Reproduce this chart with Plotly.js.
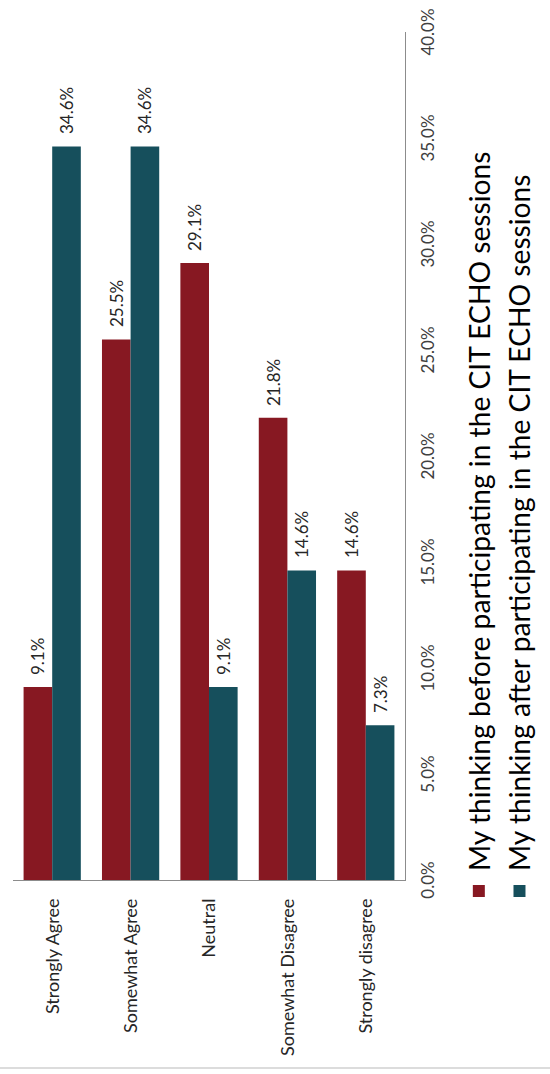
<!DOCTYPE html>
<html>
<head>
<meta charset="utf-8">
<script src="https://cdn.plot.ly/plotly-3.0.1.min.js"></script>
<style>
  html, body { margin: 0; padding: 0; background: #ffffff; overflow: hidden; width: 550px; height: 1074px; }
  #chart {
    position: absolute; left: 0; top: 0;
    width: 1074px; height: 620px;
    transform-origin: 0 0;
    transform: translate(0px, 1074px) rotate(-90deg);
  }
</style>
</head>
<body>
<div id="chart"></div>
<script>
// ---- data ----
const categories = ["Strongly Agree", "Somewhat Agree", "Neutral", "Somewhat Disagree", "Strongly disagree"];
const seriesNames = [
  "My thinking before participating in the CIT ECHO sessions",
  "My thinking after participating in the CIT ECHO sessions"
];
const beforeValues = [9.1, 25.5, 29.1, 21.8, 14.6];
const afterValues  = [34.6, 34.6, 9.1, 14.6, 7.3];
const tickValues = [0, 5, 10, 15, 20, 25, 30, 35, 40];
const tickLabels = ["0.0%", "5.0%", "10.0%", "15.0%", "20.0%", "25.0%", "30.0%", "35.0%", "40.0%"];

// ---- styling ----
const colors = ["#871822", "#164F5C"];
const FONT = "Lato, 'Open Sans', 'DejaVu Sans', sans-serif";
const W = 1074, H = 620;          // figure drawn wider than the 550px view; extra is blank
const VIEW = 550;
const M = { l: 194, r: 32, t: 13, b: H - 405 };
const BARGAP = 0.27;

const series = [beforeValues, afterValues];
const traces = series.map((vals, i) => ({
  type: "bar",
  orientation: "h",
  name: seriesNames[i],
  legendgroup: "g" + i,
  x: vals,
  y: categories,
  marker: { color: colors[i], line: { width: 0 } },
  hoverinfo: "skip"
}));

const plotH = H - M.t - M.b;
const band = plotH / categories.length;
const barPx = band * (1 - BARGAP) / series.length;
const annotations = [];
series.forEach((vals, i) => {
  const shift = (i === 0 ? 1 : -1) * barPx / 2;
  vals.forEach((v, j) => {
    annotations.push({
      x: v, y: categories[j], xref: "x", yref: "y",
      text: v.toFixed(1) + "%",
      showarrow: false,
      xanchor: "left", yanchor: "middle",
      xshift: 10, yshift: shift,
      font: { family: FONT, size: 17, color: "#262626" }
    });
  });
});

const toPaperY = v => (H - M.b - v) / plotH;

const layout = {
  width: W, height: H,
  margin: M,
  paper_bgcolor: "#ffffff",
  plot_bgcolor: "#ffffff",
  barmode: "group",
  bargap: BARGAP,
  bargroupgap: 0,
  showlegend: true,
  legend: {
    orientation: "v",
    x: (163 - M.l) / (W - M.l - M.r), xanchor: "left",
    y: toPaperY(454), yanchor: "top",
    traceorder: "grouped",
    tracegroupgap: 1,
    font: { family: FONT, size: 28.2, color: "#000000" },
    bgcolor: "rgba(0,0,0,0)"
  },
  xaxis: {
    range: [0, 40],
    tickvals: tickValues,
    ticktext: tickLabels,
    showgrid: false,
    zeroline: false,
    showline: true,
    linecolor: "#8c8c8c",
    linewidth: 1,
    ticks: "",
    ticklabelstandoff: 8,
    automargin: false,
    tickfont: { family: FONT, size: 17, color: "#404040" },
    fixedrange: true
  },
  yaxis: {
    type: "category",
    autorange: "reversed",
    showgrid: false,
    zeroline: false,
    showline: true,
    linecolor: "#8c8c8c",
    linewidth: 1,
    ticks: "",
    ticklabelstandoff: 14,
    automargin: false,
    tickfont: { family: FONT, size: 18, color: "#262626" },
    fixedrange: true
  },
  annotations: annotations,
  shapes: [{
    type: "line", xref: "paper", yref: "paper",
    x0: (6 - M.l) / (W - M.l - M.r), x1: (6 - M.l) / (W - M.l - M.r),
    y0: toPaperY(0), y1: toPaperY(VIEW),
    line: { color: "#d0d0d0", width: 1.5 }
  }]
};

Plotly.newPlot("chart", traces, layout, { displayModeBar: false, staticPlot: true });
</script>
</body>
</html>
